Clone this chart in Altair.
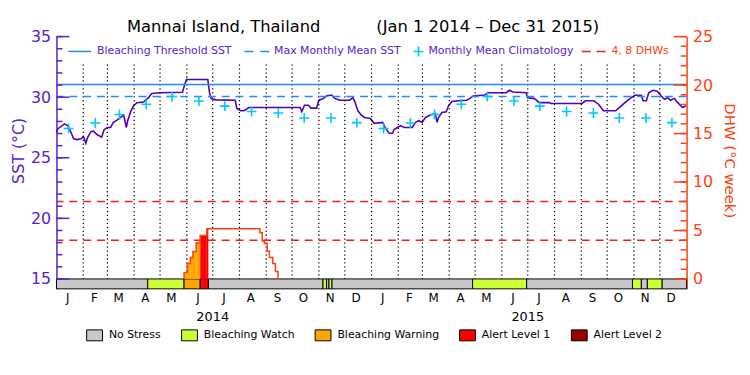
import altair as alt
import pandas as pd

FONT = "DejaVu Sans"
BASE = pd.Timestamp("2014-01-01")

# ---- data (days since 2014-01-01) ----
SST_DAY = [0, 1.5, 9.2, 13, 16.8, 19.8, 24.4, 28.3, 31.3, 34,
           35.9, 39.8, 42.7, 47.3, 52.4, 55, 58.8, 62.7, 65.7, 70.2,
           74.1, 77.9, 81, 82.5, 86.3, 89.4, 93.2, 100.8, 106.6, 110.4,
           120, 145.9, 148.6, 150.5, 175.3, 177.3, 179.1, 184.9, 207.1, 208.9,
           213.5, 217.4, 223.1, 282.3, 284.2, 287.3, 291.9, 294.9, 301.4, 304,
           309.1, 312.9, 318.6, 322.4, 328.1, 339.6, 343.5, 345.3, 349.2, 353,
           356.8, 363.6, 368.2, 377.8, 381.6, 385.4, 389.3, 391.1, 395, 398.8,
           402.6, 412.2, 416, 419.8, 423.7, 427.5, 433.2, 438.9, 440.9, 442.7,
           446.6, 451.5, 454.2, 458.1, 465.6, 475.2, 479, 482.8, 496.2, 500,
           521.1, 524.9, 528.7, 544, 545.8, 551.6, 553.5, 559.3, 570.7, 572.7,
           608.9, 612.8, 622.3, 628, 633.7, 647.8, 652.9, 658.6, 664.3, 670.1,
           677.6, 679.6, 683.4, 686.1, 691, 696, 700.6, 704.4, 708.2, 711.3,
           715.9, 719.7, 725.4, 729.2]
SST_VAL = [27.1, 27.38, 27.8, 27.65, 27.1, 26.57, 26.5, 26.57, 26.75, 26.2,
           26.65, 27.16, 27.2, 26.9, 26.7, 27.3, 27.5, 27.5, 27.9, 28.1,
           28.33, 28.5, 27.5, 28.06, 28.88, 29.29, 29.55, 29.6, 29.96, 30.3,
           30.37, 30.4, 31.05, 31.46, 31.46, 30.37, 29.88, 29.78, 29.75, 29.07,
           28.88, 28.88, 29.15, 29.15, 28.8, 29.34, 29.34, 29.1, 29.1, 29.75,
           29.88, 30.1, 30.18, 29.9, 29.75, 29.75, 29.96, 29.7, 28.88, 28.53,
           28.33, 28.25, 27.84, 27.92, 27.38, 27.02, 27.02, 27.33, 27.5, 27.65,
           27.5, 27.5, 27.92, 28.06, 27.92, 28.33, 28.53, 28.66, 27.92, 28.33,
           28.74, 28.8, 29.29, 29.64, 29.7, 29.75, 29.9, 30.1, 30.18, 30.37,
           30.37, 30.57, 30.43, 30.37, 29.96, 29.9, 29.9, 29.55, 29.55, 29.48,
           29.48, 29.7, 29.7, 29.42, 28.88, 28.88, 29.2, 29.55, 29.88, 30.16,
           30.16, 29.7, 29.7, 30.37, 30.57, 30.5, 30.1, 29.83, 29.96, 29.75,
           29.9, 29.55, 29.15, 29.29]

CLIM_MONTHLY = [27.42, 27.87, 28.57, 29.42, 30.05, 29.68,
                29.26, 28.82, 28.69, 28.28, 28.28, 27.9]
YEARS = [2014, 2015]
MMM = 30.05
THRESHOLD = 31.05
DHW_LEVELS = [4, 8]

DHW_DAY = [147.8, 151.6, 155.0, 158.1, 161.9, 166.5, 174.2, 235.7,
           238.4, 241.0, 244.1, 246.7, 250.6, 253.6, 256.7]
DHW_VAL = [0.68, 1.6, 2.21, 2.83, 3.74, 4.49, 5.17, 4.76,
           3.91, 3.67, 2.89, 2.21, 1.6, 0.78, 0.0]

STATUS_START = [0, 105.7, 147.8, 166.5, 176, 308.8, 312.9, 315.7,
                319.2, 482.1, 544.7, 667.3, 677.6, 684.5, 701.7]
STATUS_END = STATUS_START[1:] + [730]
STATUS_NAME = ["No Stress", "Bleaching Watch", "Bleaching Warning",
               "Alert Level 1", "No Stress", "Bleaching Watch", "No Stress",
               "Bleaching Watch", "No Stress", "Bleaching Watch", "No Stress",
               "Bleaching Watch", "No Stress", "Bleaching Watch", "No Stress"]
STATUS_ORDER = ["No Stress", "Bleaching Watch", "Bleaching Warning",
                "Alert Level 1", "Alert Level 2"]
STATUS_COLORS = ["#C8C8C8", "#CCFF33", "#FFA500", "#FF0000", "#990000"]

SST_MAJOR = [15, 20, 25, 30, 35]
SST_MINOR = list(range(15, 36))
DHW_MAJOR = [0, 5, 10, 15, 20, 25]
DHW_MINOR = list(range(0, 26))
MONTH_LETTERS = ["J", "F", "M", "A", "M", "J", "J", "A", "S", "O", "N", "D"]
YEAR_LABELS = ["2014", "2015"]
YEAR_LABEL_DATES = ["2014-07-01", "2015-07-01"]

TITLE_SITE = "Mannai Island, Thailand"
TITLE_PERIOD = "(Jan 1 2014 \u2013 Dec 31 2015)"

# ---- styling ----
W, H = 637, 255
SST_DOMAIN = [14.18, 35]
DHW_DOMAIN = [-1.02, 25]
PURPLE = "#5000C0"
PURPLE_TXT = "#5522CC"
BLUE = "#1E8CFF"
CYAN = "#00C8FF"
ORANGE_RED = "#FF4010"
RED = "#F01E1E"
PLUS = "M-1,0L1,0M0,-1L0,1"
RECT = "M-1,-0.69L1,-0.69L1,0.69L-1,0.69Z"


def days(arr):
    return BASE + pd.to_timedelta(pd.Series(arr, dtype=float), unit="D")


sst_df = pd.DataFrame({"date": days(SST_DAY), "sst": SST_VAL})
clim_df = pd.DataFrame({
    "date": [pd.Timestamp(y, m + 1, 15) for y in YEARS for m in range(12)],
    "clim": [CLIM_MONTHLY[m] for y in YEARS for m in range(12)],
})
month_df = pd.DataFrame({
    "date": [pd.Timestamp(y, m + 1, 14) for y in YEARS for m in range(12)],
    "letter": [MONTH_LETTERS[m] for y in YEARS for m in range(12)],
})
status_df = pd.DataFrame({
    "start": days(STATUS_START), "end": days(STATUS_END),
    "status": STATUS_NAME, "top": 15.0, "bottom": SST_DOMAIN[0],
})
line_day = [DHW_DAY[0]] + DHW_DAY
line_val = [0.0] + DHW_VAL
dhw_line_df = pd.DataFrame({"date": days(line_day), "dhw": line_val,
                            "i": list(range(len(line_day)))})
fill_rows = []
for i in range(len(DHW_DAY) - 1):
    a, b, v = DHW_DAY[i], DHW_DAY[i + 1], DHW_VAL[i]
    for s, e, st in zip(STATUS_START, STATUS_END, STATUS_NAME):
        if st in ("No Stress", "Bleaching Watch"):
            continue
        lo, hi = max(a, s), min(b, e)
        if lo < hi:
            fill_rows.append((lo, hi, v, st))
fill_df = pd.DataFrame({
    "start": days([r[0] for r in fill_rows]), "end": days([r[1] for r in fill_rows]),
    "dhw": [r[2] for r in fill_rows], "base": 0.0,
    "status": [r[3] for r in fill_rows],
})
grid_df = pd.DataFrame({"date": pd.date_range("2014-02-01", "2015-12-01", freq="MS"),
                        "top": 32.7, "bottom": 15.0})
levels_df = pd.DataFrame({"dhw": DHW_LEVELS})
thr_df = pd.DataFrame({"v": [THRESHOLD]})
mmm_df = pd.DataFrame({"v": [MMM]})
sst_major_df = pd.DataFrame({"v": SST_MAJOR})
sst_minor_df = pd.DataFrame({"v": SST_MINOR})
dhw_major_df = pd.DataFrame({"v": DHW_MAJOR})
dhw_minor_df = pd.DataFrame({"v": DHW_MINOR})
year_df = pd.DataFrame({"date": pd.to_datetime(YEAR_LABEL_DATES), "label": YEAR_LABELS})
one = pd.DataFrame({"k": [0]})

x_scale = alt.Scale(domain=[alt.DateTime(year=2014, month=1, date=1),
                            alt.DateTime(year=2016, month=1, date=1)], nice=False)
sst_scale = alt.Scale(domain=SST_DOMAIN, nice=False, zero=False)
dhw_scale = alt.Scale(domain=DHW_DOMAIN, nice=False, zero=False)
color_scale = alt.Scale(domain=STATUS_ORDER, range=STATUS_COLORS)

left_axis = alt.Axis(
    orient="left", values=SST_MAJOR, ticks=False, grid=False,
    domainColor=PURPLE_TXT, domainWidth=1.5, labelColor=PURPLE_TXT,
    labelFontSize=16, labelPadding=6, title="SST (\u00b0C)", titleColor=PURPLE_TXT,
    titleFontSize=16, titleFontWeight="normal", titleAngle=270, titleX=-38,
    titleY=115, titleAlign="center", titleBaseline="middle")
right_axis = alt.Axis(
    orient="right", values=DHW_MAJOR, ticks=False, grid=False,
    domainColor=ORANGE_RED, domainWidth=1.5, labelColor=ORANGE_RED,
    labelFontSize=16, labelPadding=6, title="DHW (\u00b0C week)",
    titleColor=ORANGE_RED, titleFontSize=15, titleFontWeight="normal",
    titleAngle=90, titleX=43, titleY=125, titleAlign="center",
    titleBaseline="middle")
legend = alt.Legend(
    orient="none", legendX=30, legendY=293, direction="horizontal", columns=5,
    title=None, symbolType=RECT, symbolSize=256, symbolStrokeColor="black",
    symbolStrokeWidth=1, symbolOpacity=1, labelFontSize=11, labelFont=FONT,
    labelColor="black", labelOffset=6, columnPadding=18)

# ---- SST marks ----
grid = alt.Chart(grid_df).mark_rule(color="black", strokeWidth=1.2, strokeDash=[1.3, 2.7]).encode(
    x=alt.X("date:T", scale=x_scale, axis=None),
    y=alt.Y("top:Q", scale=sst_scale, axis=None), y2="bottom:Q")
status_bar = alt.Chart(status_df).mark_rect(stroke="black", strokeWidth=1).encode(
    x=alt.X("start:T", scale=x_scale, axis=None), x2="end:T",
    y=alt.Y("top:Q", scale=sst_scale, axis=None), y2="bottom:Q",
    color=alt.Color("status:N", scale=color_scale, legend=legend))
thr = alt.Chart(thr_df).mark_rule(color=BLUE, strokeWidth=1.5).encode(
    y=alt.Y("v:Q", scale=sst_scale, axis=None))
mmm = alt.Chart(mmm_df).mark_rule(color=BLUE, strokeWidth=1.5, strokeDash=[8, 6]).encode(
    y=alt.Y("v:Q", scale=sst_scale, axis=None))
clim = alt.Chart(clim_df).mark_point(shape=PLUS, filled=False, size=100, strokeWidth=1.6,
                                     color=CYAN, opacity=1).encode(
    x=alt.X("date:T", scale=x_scale, axis=None),
    y=alt.Y("clim:Q", scale=sst_scale, axis=None))
sst_line = alt.Chart(sst_df).mark_line(color=PURPLE, strokeWidth=1.6).encode(
    x=alt.X("date:T", scale=x_scale, axis=None),
    y=alt.Y("sst:Q", scale=sst_scale, axis=left_axis))
sst_minor = alt.Chart(sst_minor_df).mark_rule(color=PURPLE_TXT, strokeWidth=1.5).encode(
    y=alt.Y("v:Q", scale=sst_scale, axis=None), x=alt.value(0), x2=alt.value(6))
sst_major = alt.Chart(sst_major_df).mark_rule(color=PURPLE_TXT, strokeWidth=1.5).encode(
    y=alt.Y("v:Q", scale=sst_scale, axis=None), x=alt.value(0), x2=alt.value(13))
months = alt.Chart(month_df).mark_text(fontSize=12, baseline="middle", color="black").encode(
    x=alt.X("date:T", scale=x_scale, axis=None), y=alt.value(264), text="letter:N")
years = alt.Chart(year_df).mark_text(fontSize=13, baseline="middle", color="black").encode(
    x=alt.X("date:T", scale=x_scale, axis=None), y=alt.value(283), text="label:N")

# ---- DHW marks ----
levels = alt.Chart(levels_df).mark_rule(color=RED, strokeWidth=1.5, strokeDash=[8, 6]).encode(
    y=alt.Y("dhw:Q", scale=dhw_scale, axis=right_axis))
fill = alt.Chart(fill_df).mark_rect().encode(
    x=alt.X("start:T", scale=x_scale, axis=None), x2="end:T",
    y=alt.Y("dhw:Q", scale=dhw_scale, axis=None), y2="base:Q",
    color=alt.Color("status:N", scale=color_scale, legend=legend))
dhw_line = alt.Chart(dhw_line_df).mark_line(color=ORANGE_RED, strokeWidth=1.5,
                                             interpolate="step-after").encode(
    x=alt.X("date:T", scale=x_scale, axis=None),
    y=alt.Y("dhw:Q", scale=dhw_scale, axis=None), order="i:Q")
dhw_minor = alt.Chart(dhw_minor_df).mark_rule(color=ORANGE_RED, strokeWidth=1.5).encode(
    y=alt.Y("v:Q", scale=dhw_scale, axis=None), x=alt.value(W - 6), x2=alt.value(W))
dhw_major = alt.Chart(dhw_major_df).mark_rule(color=ORANGE_RED, strokeWidth=1.5).encode(
    y=alt.Y("v:Q", scale=dhw_scale, axis=None), x=alt.value(W - 13), x2=alt.value(W))


# ---- title and top key ----
def title_text(x, label):
    return alt.Chart(one).mark_text(text=label, align="center", baseline="alphabetic",
                                    fontSize=16.5, color="black").encode(
        x=alt.value(x), y=alt.value(-5))


def key_rule(x1, x2, color, dash=None):
    kw = dict(color=color, strokeWidth=1.5)
    if dash:
        kw["strokeDash"] = dash
    return alt.Chart(one).mark_rule(**kw).encode(
        x=alt.value(x1), x2=alt.value(x2), y=alt.value(15))


def key_text(x, label, color):
    return alt.Chart(one).mark_text(text=label, align="left", baseline="middle",
                                    fontSize=11, color=color).encode(
        x=alt.value(x), y=alt.value(15))


key_plus = alt.Chart(one).mark_point(shape=PLUS, filled=False, size=100, strokeWidth=1.6,
                                     color=CYAN, opacity=1).encode(
    x=alt.value(366), y=alt.value(15))

chart = alt.layer(
    sst_line, grid, thr, mmm, clim, status_bar, levels, fill, dhw_line,
    sst_minor, sst_major, dhw_minor, dhw_major, months, years,
    title_text(169, TITLE_SITE), title_text(436, TITLE_PERIOD),
    key_rule(12, 35, BLUE), key_text(41, "Bleaching Threshold SST", PURPLE_TXT),
    key_rule(190, 215, BLUE, [9, 7]), key_text(220, "Max Monthly Mean SST", PURPLE_TXT),
    key_plus, key_text(376, "Monthly Mean Climatology", PURPLE_TXT),
    key_rule(531, 555, RED, [9, 6]), key_text(561, "4, 8 DHWs", ORANGE_RED),
).resolve_scale(y="independent").properties(
    width=W, height=H,
    autosize=alt.AutoSizeParams(type="none"),
    padding={"left": 49, "top": 27, "right": 56, "bottom": 70},
).configure_view(stroke=None).configure_axis(
    labelFont=FONT, titleFont=FONT).configure_text(font=FONT)

chart.save("out.html", embed_options={"renderer": "svg", "actions": False})
